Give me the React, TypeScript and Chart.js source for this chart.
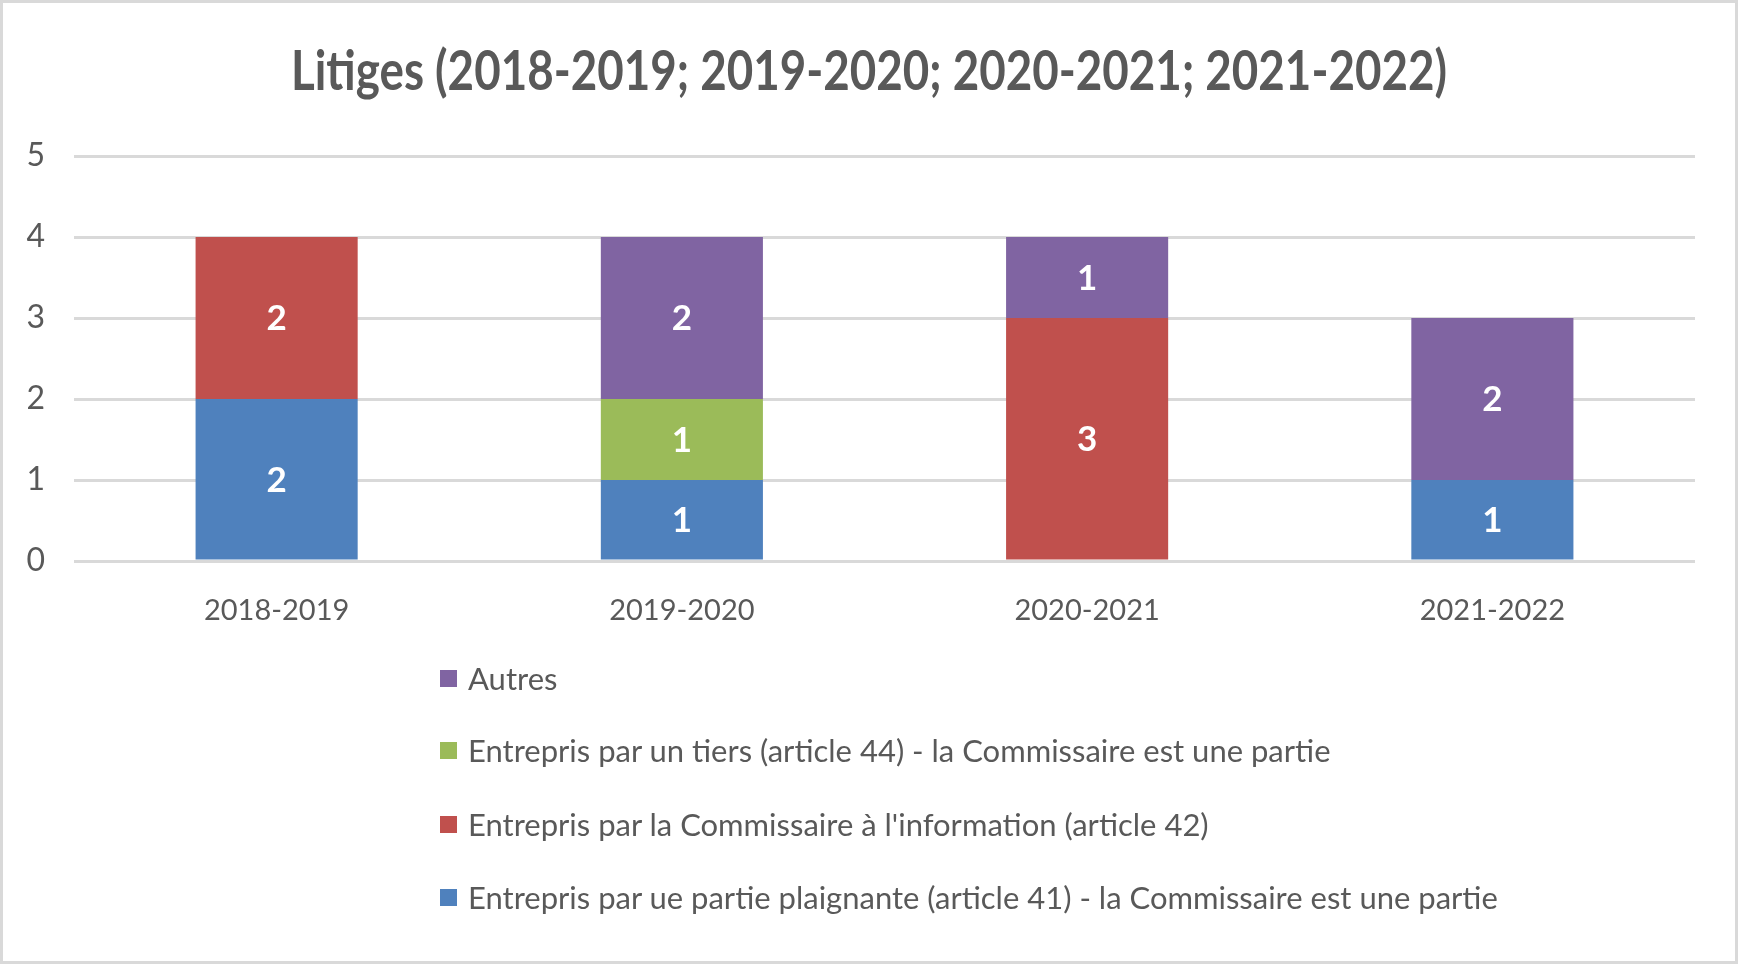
import React, { useEffect, useRef } from "react";
import { Chart, registerables } from "chart.js";

Chart.register(...registerables);

const titleText = "Litiges (2018-2019; 2019-2020; 2020-2021; 2021-2022)";
const categories = ["2018-2019", "2019-2020", "2020-2021", "2021-2022"];
const seriesNames = [
  "Entrepris par ue partie plaignante (article 41) - la Commissaire est une partie",
  "Entrepris par la Commissaire à l'information (article 42)",
  "Entrepris par un tiers (article 44) - la Commissaire est une partie",
  "Autres",
];
const article41 = [2, 1, 0, 1];
const article42 = [2, 0, 3, 0];
const article44 = [0, 1, 0, 0];
const autres = [0, 2, 1, 2];
const seriesColors = ["#4F81BD", "#C0504D", "#9BBB59", "#8064A2"];
const yTicks = [0, 1, 2, 3, 4, 5];

const FONT = "Lato, 'DejaVu Sans Condensed', sans-serif";
const TEXT = "#595959";

const titlePlugin = {
  id: "squeezedTitle",
  afterDraw(chart: any) {
    const ctx = chart.ctx;
    ctx.save();
    ctx.font = `bold 56px ${FONT}`;
    ctx.fillStyle = TEXT;
    ctx.textAlign = "center";
    ctx.textBaseline = "middle";
    const w = ctx.measureText(titleText).width;
    const sx = Math.min(1, 1156 / w);
    ctx.translate(chart.width / 2, 72);
    ctx.scale(sx, 1);
    ctx.fillText(titleText, 0, 0);
    ctx.restore();
  },
};

const valueLabels = {
  id: "valueLabels",
  afterDatasetsDraw(chart: any) {
    const ctx = chart.ctx;
    ctx.save();
    ctx.fillStyle = "#FFFFFF";
    ctx.font = `bold 35px ${FONT}`;
    ctx.textAlign = "center";
    ctx.textBaseline = "middle";
    chart.data.datasets.forEach((ds: any, i: number) => {
      const meta = chart.getDatasetMeta(i);
      meta.data.forEach((bar: any, j: number) => {
        const v = ds.data[j];
        if (!v) return;
        ctx.fillText(String(v), bar.x, (bar.y + bar.base) / 2 + 1);
      });
    });
    ctx.restore();
  },
};

export default function App() {
  const ref = useRef<HTMLCanvasElement | null>(null);

  useEffect(() => {
    if (!ref.current) return;
    const data = [article41, article42, article44, autres];
    const chart = new Chart(ref.current, {
      type: "bar",
      data: {
        labels: categories,
        datasets: seriesNames.map((name, i) => ({
          label: name,
          data: data[i],
          backgroundColor: seriesColors[i],
          borderWidth: 0,
          barPercentage: 0.4,
          categoryPercentage: 1,
        })),
      },
      options: {
        animation: false,
        responsive: false,
        devicePixelRatio: 1,
        layout: { padding: { top: 156, left: 18, right: 43, bottom: 323 } },
        plugins: {
          legend: { display: false },
          tooltip: { enabled: false },
          title: { display: false },
        },
        scales: {
          x: {
            stacked: true,
            grid: { display: false },
            border: { display: false },
            ticks: { color: TEXT, font: { family: FONT, size: 29 }, padding: 24 },
            afterFit: (s: any) => { s.height = 80; },
          },
          y: {
            stacked: true,
            min: 0,
            max: 5,
            afterBuildTicks: (s: any) => { s.ticks = yTicks.map((v) => ({ value: v })); },
            grid: { color: "#D9D9D9", lineWidth: 3, drawTicks: false },
            border: { display: false },
            ticks: { color: TEXT, font: { family: FONT, size: 32 }, padding: 29 },
            afterFit: (s: any) => { s.width = 56; },
          },
        },
      },
      plugins: [valueLabels, titlePlugin],
    });
    return () => chart.destroy();
  }, []);

  const legendOrder = [3, 2, 1, 0];
  const legendTops = [678, 750, 824, 897];

  return (
    <div
      style={{
        position: "fixed",
        left: 0,
        top: 0,
        width: 1738,
        height: 964,
        boxSizing: "border-box",
        border: "3px solid #D9D9D9",
        background: "#fff",
        overflow: "hidden",
      }}
    >
      <canvas ref={ref} width={1738} height={964} style={{ position: "absolute", left: -3, top: -3 }} />
      {legendOrder.map((idx, k) => (
        <div
          key={idx}
          style={{
            position: "absolute",
            left: 437,
            top: legendTops[k] - 3 - 20,
            height: 40,
            display: "flex",
            alignItems: "center",
            fontFamily: FONT,
            fontSize: 31,
            color: TEXT,
            whiteSpace: "nowrap",
          }}
        >
          <span style={{ display: "inline-block", width: 17, height: 17, background: seriesColors[idx], marginRight: 11 }} />
          <span>{seriesNames[idx]}</span>
        </div>
      ))}
    </div>
  );
}
